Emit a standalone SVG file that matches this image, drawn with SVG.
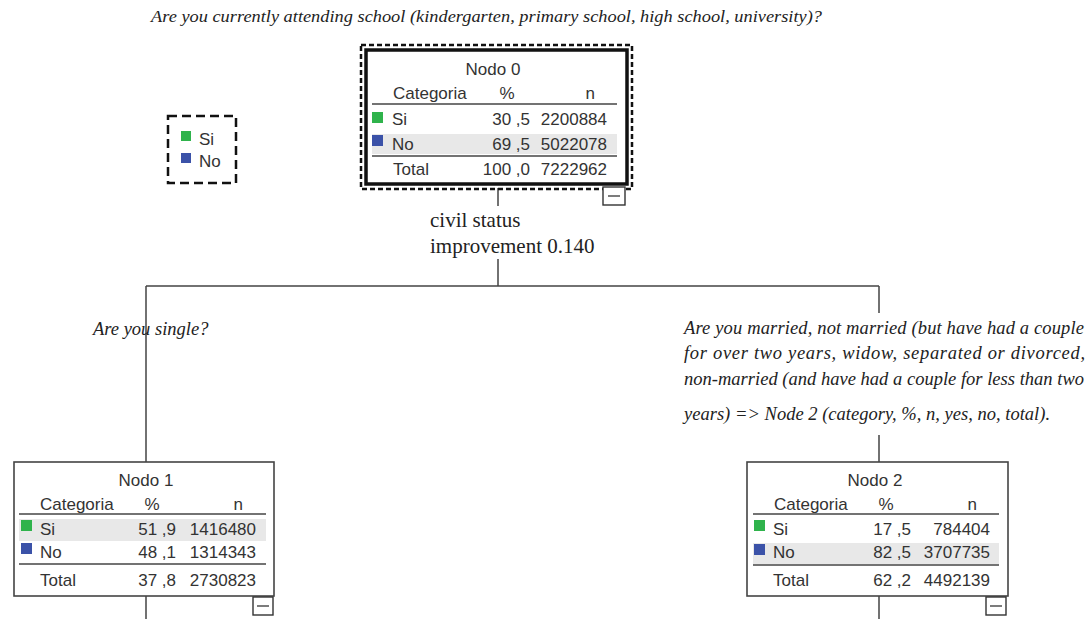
<svg xmlns="http://www.w3.org/2000/svg" width="1090" height="619" viewBox="0 0 1090 619">
<defs>
<style>
.t{font-family:"Liberation Sans","DejaVu Sans",sans-serif;font-size:17px;fill:#333}
.r{text-anchor:end}
.m{text-anchor:middle}
.q{font-family:"Liberation Serif","Times New Roman",serif;font-style:italic;font-size:17px;fill:#222}
.q2{font-family:"Liberation Serif","Times New Roman",serif;font-style:italic;font-size:18.5px;fill:#222}
.s{font-family:"Liberation Serif","Times New Roman",serif;font-size:21px;fill:#222}
.box{fill:#fff;stroke:#444;stroke-width:1.6}
.rule{stroke:#444;stroke-width:1.4}
.hl{fill:#e8e8e8}
.g{fill:#2fb34c}
.b{fill:#3b52a8}
.c{stroke:#444;stroke-width:1.5;fill:none}
.mb{fill:#fff;stroke:#333;stroke-width:1.4}
</style>
</defs>
<rect width="1090" height="619" fill="#fff"/>

<text class="q" x="151" y="22" textLength="671" lengthAdjust="spacingAndGlyphs">Are you currently attending school (kindergarten, primary school, high school, university)?</text>

<g id="connectors">
<path class="c" d="M498,188 V206 M498,259 V286 M146,286 H879 M146,286 V462 M879,286 V313 M879,435 V462 M146,596 V619 M879,596 V619"/>
</g>

<g id="legend">
<rect x="168" y="116" width="68" height="67" fill="none" stroke="#111" stroke-width="2.5" stroke-dasharray="9,5"/>
<rect class="g" x="181" y="131" width="10" height="10"/>
<text class="t" x="199" y="145">Si</text>
<rect class="b" x="181" y="153" width="10" height="10"/>
<text class="t" x="199" y="167">No</text>
</g>

<g id="node0">
<rect x="361" y="45" width="271" height="144" fill="none" stroke="#111" stroke-width="2.5" stroke-dasharray="5,3"/>
<rect x="366" y="50" width="261" height="134" fill="#fff" stroke="#111" stroke-width="3.5"/>
<text class="t m" x="493" y="75">Nodo 0</text>
<text class="t" x="393" y="99">Categoria</text>
<text class="t m" x="507" y="99">%</text>
<text class="t r" x="595" y="99">n</text>
<line class="rule" x1="372" y1="104" x2="617" y2="104"/>
<rect class="g" x="372" y="112" width="11" height="11"/>
<text class="t" x="392" y="125">Si</text>
<text class="t r" x="530" y="125">30 ,5</text>
<text class="t r" x="607" y="125">2200884</text>
<rect class="hl" x="372" y="134" width="245" height="20"/>
<rect class="b" x="372" y="135" width="11" height="11"/>
<text class="t" x="392" y="150">No</text>
<text class="t r" x="530" y="150">69 ,5</text>
<text class="t r" x="607" y="150">5022078</text>
<line class="rule" x1="372" y1="156" x2="617" y2="156"/>
<text class="t" x="393" y="175">Total</text>
<text class="t r" x="530" y="175">100 ,0</text>
<text class="t r" x="607" y="175">7222962</text>
<rect class="mb" x="603" y="187" width="22" height="18"/>
<line class="rule" x1="608" y1="196" x2="620" y2="196"/>
</g>

<text class="s" x="430" y="227">civil status</text>
<text class="s" x="430" y="253">improvement 0.140</text>

<text class="q2" x="93" y="335">Are you single?</text>

<g id="question2">
<text class="q2" x="684" y="334" textLength="400" lengthAdjust="spacing">Are you married, not married (but have had a couple</text>
<text class="q2" x="684" y="359" textLength="401" lengthAdjust="spacing">for over two years, widow, separated or divorced,</text>
<text class="q2" x="684" y="385" textLength="400" lengthAdjust="spacing">non-married (and have had a couple for less than two</text>
<text class="q2" x="684" y="420" textLength="366" lengthAdjust="spacing">years) =&gt; Node 2 (category, %, n, yes, no, total).</text>
</g>

<g id="node1">
<rect class="box" x="14" y="462" width="260" height="134"/>
<text class="t m" x="146" y="486">Nodo 1</text>
<text class="t" x="40" y="510">Categoria</text>
<text class="t m" x="152" y="510">%</text>
<text class="t r" x="243" y="510">n</text>
<line class="rule" x1="19" y1="514" x2="266" y2="514"/>
<rect class="hl" x="19" y="519" width="247" height="22"/>
<rect class="g" x="21" y="520" width="11" height="11"/>
<text class="t" x="40" y="535">Si</text>
<text class="t r" x="176" y="535">51 ,9</text>
<text class="t r" x="256" y="535">1416480</text>
<rect class="b" x="21" y="543" width="11" height="11"/>
<text class="t" x="40" y="558">No</text>
<text class="t r" x="176" y="558">48 ,1</text>
<text class="t r" x="256" y="558">1314343</text>
<line class="rule" x1="19" y1="564" x2="266" y2="564"/>
<text class="t" x="40" y="586">Total</text>
<text class="t r" x="176" y="586">37 ,8</text>
<text class="t r" x="256" y="586">2730823</text>
<rect class="mb" x="253" y="597" width="20" height="18"/>
<line class="rule" x1="257" y1="606" x2="269" y2="606"/>
</g>

<g id="node2">
<rect class="box" x="747" y="462" width="261" height="134"/>
<text class="t m" x="875" y="486">Nodo 2</text>
<text class="t" x="774" y="510">Categoria</text>
<text class="t m" x="886" y="510">%</text>
<text class="t r" x="977" y="510">n</text>
<line class="rule" x1="753" y1="514" x2="999" y2="514"/>
<rect class="g" x="754" y="520" width="11" height="11"/>
<text class="t" x="773" y="535">Si</text>
<text class="t r" x="911" y="535">17 ,5</text>
<text class="t r" x="990" y="535">784404</text>
<rect class="hl" x="753" y="543" width="246" height="21"/>
<rect class="b" x="754" y="544" width="11" height="11"/>
<text class="t" x="773" y="558">No</text>
<text class="t r" x="911" y="558">82 ,5</text>
<text class="t r" x="990" y="558">3707735</text>
<line class="rule" x1="753" y1="565" x2="999" y2="565"/>
<text class="t" x="773" y="586">Total</text>
<text class="t r" x="911" y="586">62 ,2</text>
<text class="t r" x="990" y="586">4492139</text>
<rect class="mb" x="986" y="597" width="20" height="18"/>
<line class="rule" x1="990" y1="606" x2="1002" y2="606"/>
</g>
</svg>
